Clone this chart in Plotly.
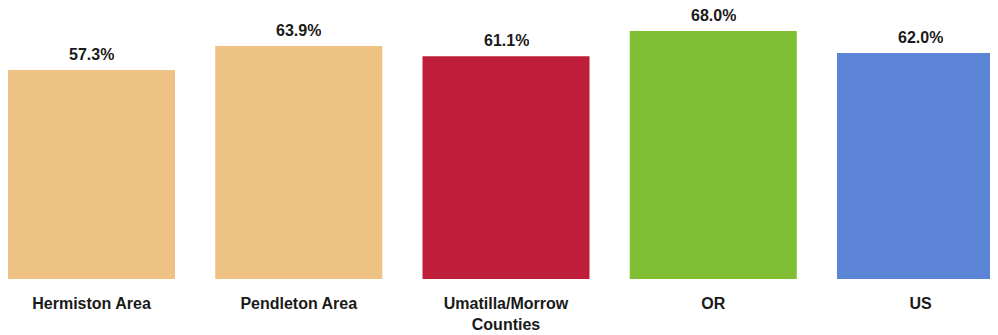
import plotly.graph_objects as go

categories = ["Hermiston Area", "Pendleton Area", "Umatilla/Morrow<br>Counties", "OR", "US"]
values = [57.3, 63.9, 61.1, 68.0, 62.0]
colors = ["#EDC282", "#EDC282", "#BE1E3A", "#80BF33", "#5B84D6"]

FONT = "Liberation Sans Narrow, Arial Narrow, Liberation Sans, Arial, sans-serif"

W, H = 998, 335
spacing = 207.25
center0 = 83.5          # page has an 8px body offset
x0 = -center0 / spacing
x1 = x0 + W / spacing
px_per_unit = 3.647
plot_bottom = 271
top_m = 20
plot_h = plot_bottom - top_m

fig = go.Figure(go.Bar(
    x=list(range(len(categories))),
    y=values,
    marker=dict(color=colors, line=dict(width=0)),
    width=167 / spacing,
    cliponaxis=False,
))

for i, v in enumerate(values):
    fig.add_annotation(
        x=i, y=v, xref="x", yref="y",
        text=f"<b>{v:.1f}%</b>",
        showarrow=False, yanchor="bottom", yshift=8,
        height=14, valign="middle", borderpad=0,
        font=dict(family=FONT, size=16, color="#1a1a1a"),
    )

fig.update_layout(
    width=W, height=H,
    margin=dict(l=0, r=0, t=top_m, b=H - plot_bottom),
    paper_bgcolor="white", plot_bgcolor="white",
    showlegend=False,
    xaxis=dict(
        range=[x0, x1],
        tickmode="array",
        tickvals=list(range(len(categories))),
        ticktext=[f"<b>{c}</b>" for c in categories],
        tickfont=dict(family=FONT, size=16, color="#1a1a1a"),
        showgrid=False, zeroline=False, showline=False, ticks="",
        ticklabelstandoff=13,
    ),
    yaxis=dict(range=[0, plot_h / px_per_unit], visible=False),
)

fig.write_html("out.html")
